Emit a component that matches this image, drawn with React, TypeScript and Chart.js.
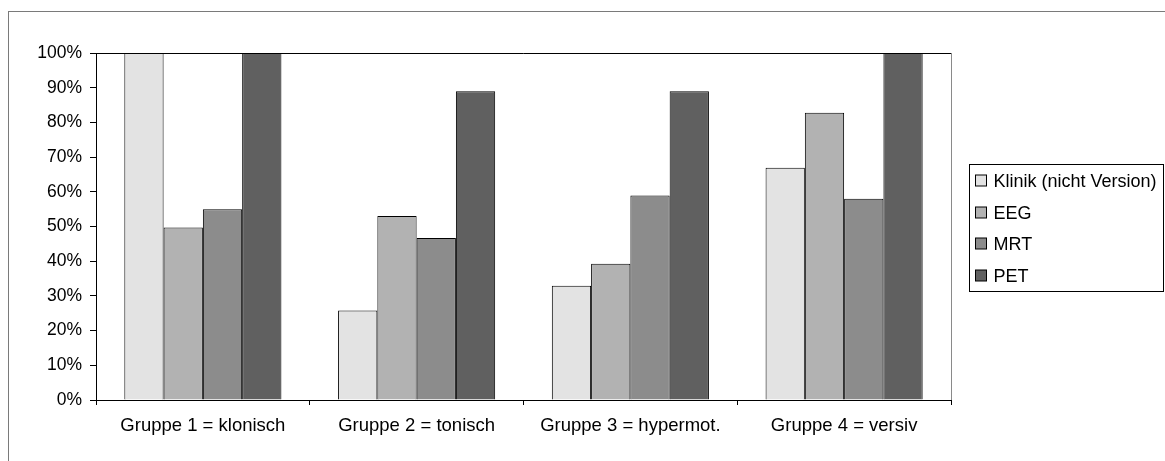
import React, { useEffect, useRef } from 'react';
import { Chart, registerables } from 'chart.js';

Chart.register(...registerables);

// Categories and series (percent of patients per group)
const categories = [
  'Gruppe 1 = klonisch',
  'Gruppe 2 = tonisch',
  'Gruppe 3 = hypermot.',
  'Gruppe 4 = versiv',
];
const seriesNames = ['Klinik (nicht Version)', 'EEG', 'MRT', 'PET'];
const klinik = [100, 25.8, 32.9, 66.9];
const eeg = [49.7, 53.0, 39.3, 82.8];
const mrt = [55.0, 46.7, 58.9, 58.0];
const pet = [100, 89.0, 89.0, 100];
const seriesColors = ['#E3E3E3', '#B2B2B2', '#8C8C8C', '#606060'];
const yMin = 0;
const yMax = 100;
const yStep = 10;

const FONT = '"Liberation Sans", Arial, sans-serif';
const LABEL_SIZE = 18.5;
const LEGEND_SIZE = 18;
const Y_SIZE = 17.5;

// Outer frame, plot-area border lines and the boxed legend on the right
const framePlugin = {
  id: 'frame',
  beforeDraw(chart: any) {
    const { ctx } = chart;
    ctx.save();
    ctx.fillStyle = '#ffffff';
    ctx.fillRect(0, 0, chart.width, chart.height);
    ctx.strokeStyle = '#7a7a7a';
    ctx.lineWidth = 1;
    ctx.strokeRect(8.5, 11.5, chart.width + 50, chart.height + 50);
    ctx.restore();
  },
  afterDraw(chart: any) {
    const { ctx, chartArea } = chart;
    const top = Math.floor(chartArea.top) + 0.5;
    const right = Math.floor(chartArea.right) + 0.5;
    ctx.save();
    ctx.lineWidth = 1;
    ctx.strokeStyle = '#000000';
    ctx.beginPath();
    ctx.moveTo(chartArea.left, top);
    ctx.lineTo(right, top);
    ctx.stroke();
    ctx.strokeStyle = '#8a8a8a';
    ctx.beginPath();
    ctx.moveTo(right, top);
    ctx.lineTo(right, chartArea.bottom);
    ctx.stroke();

    // legend
    const lx = Math.floor(chartArea.right) + 18.5;
    const ly = 164.5;
    const lw = 194;
    const lh = 127;
    ctx.strokeStyle = '#000000';
    ctx.strokeRect(lx, ly, lw, lh);
    const rowStart = 181;
    const rowGap = 31.5;
    ctx.font = `${LEGEND_SIZE}px ${FONT}`;
    ctx.textBaseline = 'middle';
    ctx.textAlign = 'left';
    chart.data.datasets.forEach((ds: any, i: number) => {
      const cy = Math.round(rowStart + i * rowGap);
      ctx.fillStyle = ds.backgroundColor;
      ctx.fillRect(lx + 6, cy - 6, 11, 11);
      ctx.strokeStyle = '#000000';
      ctx.strokeRect(lx + 6, cy - 6, 11, 11);
      ctx.fillStyle = '#000000';
      ctx.fillText(ds.label, lx + 24, cy + 1);
    });
    ctx.restore();
  },
};

export default function App() {
  const canvasRef = useRef<HTMLCanvasElement>(null);

  useEffect(() => {
    document.body.style.margin = '0';
    const canvas = canvasRef.current;
    if (!canvas) return;
    const values = [klinik, eeg, mrt, pet];
    const chart = new Chart(canvas, {
      type: 'bar',
      data: {
        labels: categories,
        datasets: seriesNames.map((name, i) => ({
          label: name,
          data: values[i],
          backgroundColor: seriesColors[i],
          borderColor: '#000000',
          borderWidth: 1,
          categoryPercentage: 0.735,
          barPercentage: 1,
        })),
      },
      options: {
        animation: false,
        responsive: false,
        devicePixelRatio: 1,
        layout: { padding: { top: 53, right: 214, left: 0, bottom: 0 } },
        plugins: {
          legend: { display: false },
          tooltip: { enabled: false },
        },
        scales: {
          x: {
            grid: {
              display: true,
              offset: true,
              drawOnChartArea: false,
              tickLength: 5,
              tickColor: '#000000',
              color: '#000000',
            },
            border: { display: true, color: '#000000', width: 1 },
            ticks: {
              color: '#000000',
              font: { family: FONT, size: LABEL_SIZE },
              padding: 10,
              maxRotation: 0,
              autoSkip: false,
            },
            afterFit(scale: any) {
              scale.height = 61;
            },
          },
          y: {
            min: yMin,
            max: yMax,
            grid: {
              display: true,
              drawOnChartArea: false,
              tickLength: 6,
              tickColor: '#000000',
              color: '#000000',
            },
            border: { display: true, color: '#000000', width: 1 },
            ticks: {
              stepSize: yStep,
              color: '#000000',
              font: { family: FONT, size: Y_SIZE },
              padding: 8,
              callback: (v: any) => `${v}%`,
            },
            afterFit(scale: any) {
              scale.width = 96;
            },
          },
        },
      },
      plugins: [framePlugin],
    });
    return () => chart.destroy();
  }, []);

  return (
    <div style={{ width: 1165, height: 461 }}>
      <canvas ref={canvasRef} width={1165} height={461} />
    </div>
  );
}
